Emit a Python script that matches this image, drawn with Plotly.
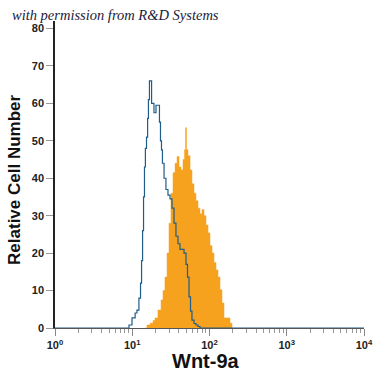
import plotly.graph_objects as go

# Isotype control (blue outline) - bin positions (fluorescence) and counts
ctrl_x = [1, 8.55, 9.08, 9.93, 10.9, 11.5, 12.2, 12.8, 13.2, 13.6, 14.0, 14.4, 14.8, 15.3, 15.8,
          16.2, 16.7, 17.2, 17.8, 18.3, 19.1, 20.3, 21.5, 22.5, 23.2, 23.9, 24.6, 25.8, 27.3,
          29.0, 30.8, 32.7, 34.7, 36.8, 39.1, 41.5, 44.1, 46.8, 49.6, 51.9, 54.3, 56.8, 59.3,
          63.0, 66.8, 71.0, 75.3, 10000]
ctrl_y = [0, 0, 0.8, 2.7, 4.0, 4.8, 8, 12, 18, 26, 35, 43, 48, 51, 56,
          61, 66, 66, 60, 60, 57.5, 59.5, 59.5, 55, 50, 47.6, 44, 40, 37,
          35.5, 34.5, 32, 28, 24.5, 22.5, 21, 21, 20, 17, 13.6, 8.3, 4.5, 2.1,
          1.2, 0.8, 0.4, 0, 0]

# Wnt-9a stained (orange filled)
stain_x = [14.6, 15.5, 17.0, 18.6, 19.7, 21.5, 23.6, 25.0, 26.5, 28.2, 29.9, 31.7, 33.7, 35.8,
           38.0, 40.3, 42.8, 45.4, 47.5, 48.9, 50.4, 52.7, 56.0, 59.3, 63.0, 66.8, 71.0, 75.3,
           80.0, 84.9, 90.1, 95.7, 101.5, 107.8, 114.4, 121.4, 128.8, 136.8, 145.2, 154.1,
           168.6, 184.1, 195.5]
stain_y = [0, 0.8, 1.3, 2, 2.7, 4.8, 7.5, 10, 13.6, 20, 28, 36, 41.5, 44,
           45.8, 43, 42.2, 45, 47.6, 53.5, 47.6, 46, 42.2, 38.5, 36, 34, 32, 30.5,
           31.6, 30, 27.5, 25.4, 22, 20, 17.5, 15.5, 13.6, 10.2, 6.7, 2.7,
           2.7, 1.3, 0]

x_major = [1, 10, 100, 1000, 10000]
x_major_text = ["10<sup>0</sup>", "10<sup>1</sup>", "10<sup>2</sup>", "10<sup>3</sup>", "10<sup>4</sup>"]
x_minor = [m * d for d in [1, 10, 100, 1000] for m in range(2, 10)]
y_ticks = [0, 10, 20, 30, 40, 50, 60, 70, 80]

ORANGE = "#F7A21F"
BLUE = "#1F5C88"

fig = go.Figure()
fig.add_trace(go.Scatter(x=stain_x, y=stain_y, mode="lines", line_shape="hv",
                         line=dict(color=ORANGE, width=0.5), fill="tozeroy",
                         fillcolor=ORANGE, hoverinfo="skip"))
fig.add_trace(go.Scatter(x=ctrl_x, y=ctrl_y, mode="lines", line_shape="hv",
                         line=dict(color=BLUE, width=1.2), hoverinfo="skip"))

tickfont = dict(family="Liberation Sans, Arial, sans-serif", size=11, color="#222222", weight="bold")

fig.update_layout(
    width=375, height=375,
    margin=dict(l=55, r=11, t=21, b=47),
    paper_bgcolor="white", plot_bgcolor="white",
    showlegend=False,
    xaxis=dict(type="log", range=[0, 4], showgrid=False, zeroline=False, automargin=False,
               showline=True, linecolor="#555555", linewidth=1,
               tickvals=x_major, ticktext=x_major_text, ticks="outside",
               ticklen=7, tickcolor="#888888", tickfont=tickfont,
               minor=dict(tickvals=x_minor, ticks="outside", ticklen=4, tickcolor="#999999")),
    yaxis=dict(range=[0, 82], showgrid=False, zeroline=False, automargin=False,
               showline=True, linecolor="#222222", linewidth=1.5,
               tickvals=y_ticks, ticks="outside", ticklen=7, tickcolor="#999999",
               tickfont=tickfont),
    annotations=[
        dict(text="with permission from R&D Systems", xref="paper", yref="paper",
             x=-0.146, y=1.018, xanchor="left", yanchor="middle", showarrow=False,
             font=dict(family="Liberation Serif, serif", size=14.5, color="#1a1a3a", style="italic")),
        dict(text="Relative Cell Number", xref="paper", yref="paper",
             x=-0.133, y=0.482, xanchor="center", yanchor="middle", textangle=-90,
             showarrow=False,
             font=dict(family="Liberation Sans, Arial, sans-serif", size=17, color="#111111", weight="bold")),
        dict(text="Wnt-9a", xref="paper", yref="paper",
             x=0.49, y=-0.106, xanchor="center", yanchor="middle", showarrow=False,
             font=dict(family="Liberation Sans, Arial, sans-serif", size=20, color="#111111", weight="bold")),
    ],
)

fig.write_html("out.html", config={"displayModeBar": False},
               post_script="document.body.style.margin='0';document.body.style.padding='0';document.body.style.overflow='hidden';")
